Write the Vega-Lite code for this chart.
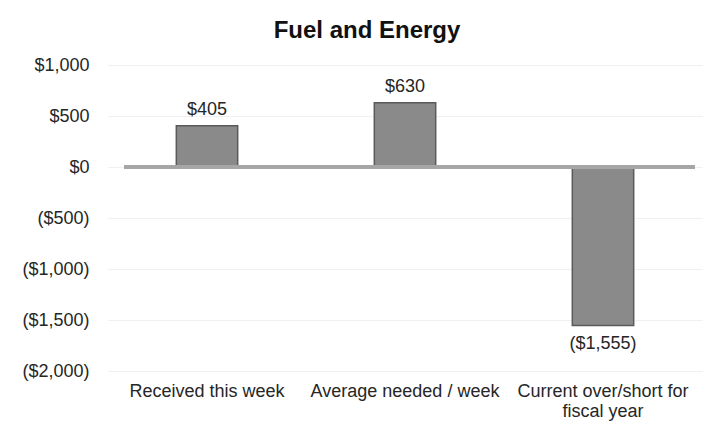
{
  "$schema": "https://vega.github.io/schema/vega-lite/v6.json",
  "width": 594,
  "height": 306,
  "autosize": {"type": "none"},
  "padding": {"left": 108, "top": 65, "right": 23, "bottom": 59},
  "background": "white",
  "config": {
    "font": "Liberation Sans",
    "view": {"stroke": null}
  },
  "title": {
    "text": "Fuel and Energy",
    "fontSize": 24,
    "fontWeight": "bold",
    "color": "#111111",
    "anchor": "middle",
    "dx": -38,
    "offset": 13
  },
  "data": {
    "values": [
      {"category": "Received this week", "value": 405},
      {"category": "Average needed / week", "value": 630},
      {"category": "Current over/short for fiscal year", "value": -1555}
    ]
  },
  "transform": [
    {"calculate": "datum.value < 0 ? '(' + format(-datum.value, '$,') + ')' : format(datum.value, '$,')", "as": "label"}
  ],
  "encoding": {
    "x": {
      "field": "category",
      "type": "nominal",
      "sort": null,
      "scale": {"paddingInner": 0.69, "paddingOuter": 0.345},
      "axis": {
        "title": null,
        "orient": "bottom",
        "labelAngle": 0,
        "domain": false,
        "ticks": false,
        "labelPadding": 11,
        "labelFontSize": 18,
        "labelLimit": 400,
        "labelColor": "#262626",
        "labelLineHeight": 20,
        "labelExpr": "datum.label == 'Current over/short for fiscal year' ? ['Current over/short for', 'fiscal year'] : datum.label"
      }
    }
  },
  "layer": [
    {
      "mark": {"type": "bar", "fill": "#8a8a8a", "stroke": "#5a5a5a", "strokeWidth": 1.5},
      "encoding": {
        "y": {
          "field": "value",
          "type": "quantitative",
          "scale": {"domain": [-2000, 1000], "nice": false},
          "axis": {
            "title": null,
            "values": [-2000, -1500, -1000, -500, 0, 500, 1000],
            "domain": false,
            "ticks": false,
            "grid": true,
            "gridColor": "#f0f0f0",
            "gridWidth": 1,
            "labelPadding": 19,
            "labelFontSize": 18,
            "labelColor": "#262626",
            "labelExpr": "datum.value < 0 ? '(' + format(-datum.value, '$,') + ')' : format(datum.value, '$,')"
          }
        }
      }
    },
    {
      "mark": {"type": "rule", "color": "#a6a6a6", "strokeWidth": 4},
      "encoding": {"y": {"datum": 0, "type": "quantitative"}, "x": {"value": 16}, "x2": {"value": 587}}
    },
    {
      "transform": [{"filter": "datum.value >= 0"}],
      "mark": {"type": "text", "baseline": "bottom", "dy": -7, "fontSize": 18, "color": "#262626"},
      "encoding": {
        "y": {"field": "value", "type": "quantitative"},
        "text": {"field": "label"}
      }
    },
    {
      "transform": [{"filter": "datum.value < 0"}],
      "mark": {"type": "text", "baseline": "top", "dy": 9, "fontSize": 18, "color": "#262626"},
      "encoding": {
        "y": {"field": "value", "type": "quantitative"},
        "text": {"field": "label"}
      }
    }
  ]
}
